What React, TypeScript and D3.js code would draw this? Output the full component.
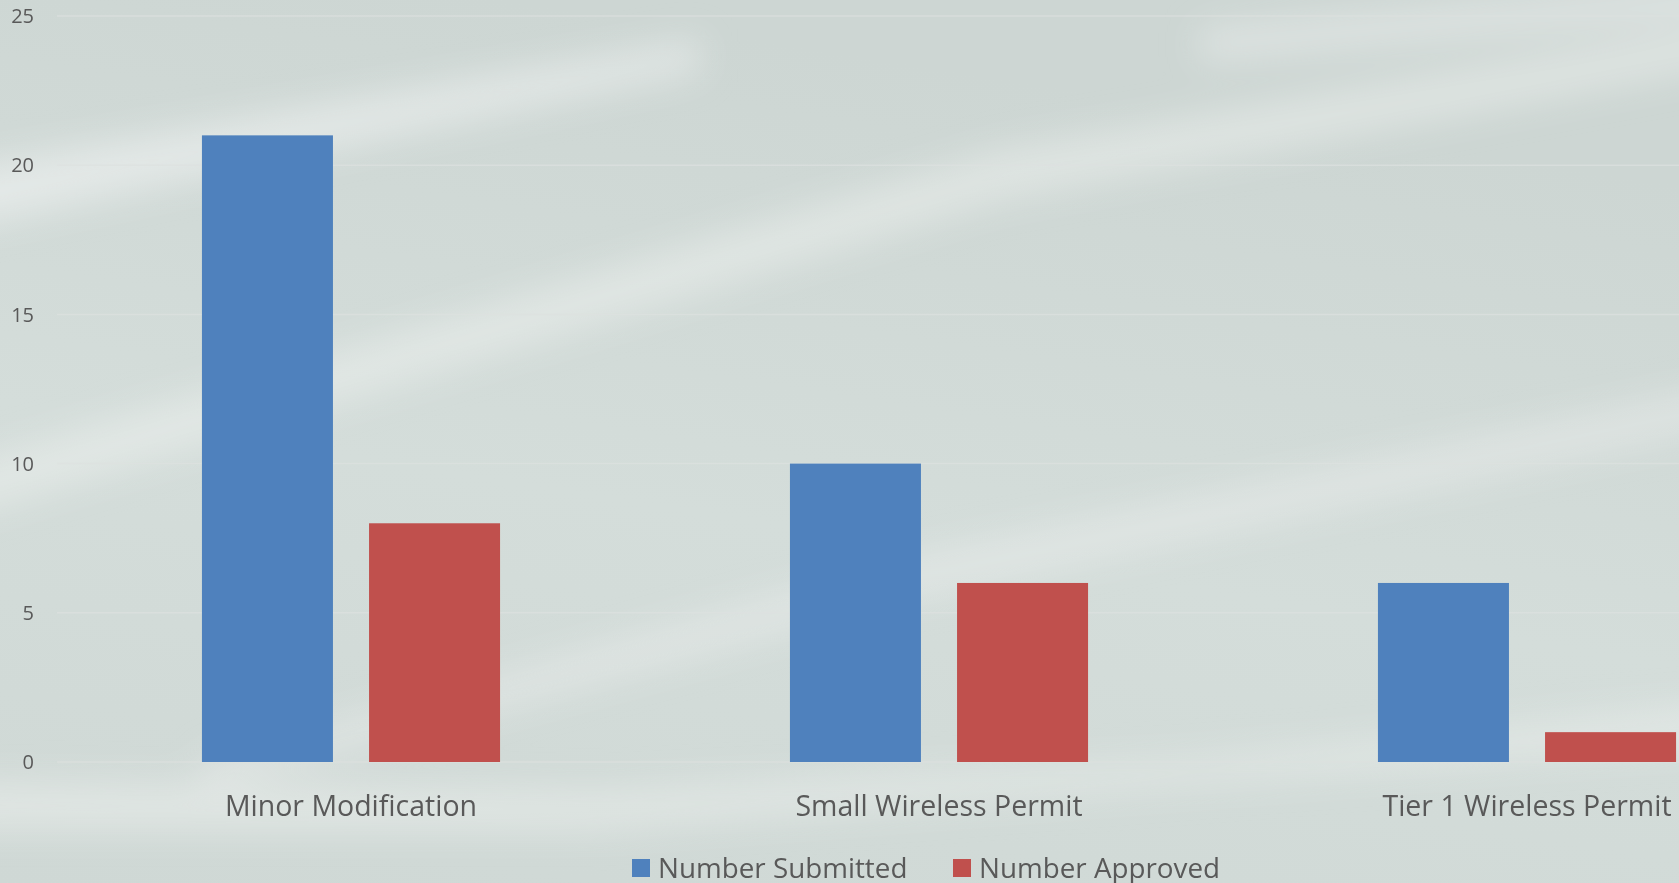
import { useRef, useEffect } from "react";
import * as d3 from "d3";

const categories = ["Minor Modification", "Small Wireless Permit", "Tier 1 Wireless Permit"];
const seriesNames = ["Number Submitted", "Number Approved"];
const submitted = [21, 10, 6];
const approved = [8, 6, 1];
const yTicks = [0, 5, 10, 15, 20, 25];
const colors = ["#4f81bd", "#c0504d"];

const App = () => {
  const svgRef = useRef<SVGSVGElement>(null);

  useEffect(() => {
    const width = 1679;
    const height = 883;
    d3.select("body").style("margin", "0").style("overflow", "hidden");
    const svg = d3.select(svgRef.current).attr("width", width).attr("height", height);
    svg.selectAll("*").remove();

    // background with the diagonal light streaks
    const defs = svg.append("defs");
    const bg = defs
      .append("linearGradient")
      .attr("id", "bg")
      .attr("x1", 0)
      .attr("y1", 1)
      .attr("x2", 0.3)
      .attr("y2", 0);
    bg.append("stop").attr("offset", "0%").attr("stop-color", "#cfd8d5");
    bg.append("stop").attr("offset", "50%").attr("stop-color", "#d4ddda");
    bg.append("stop").attr("offset", "100%").attr("stop-color", "#cdd6d3");
    defs
      .append("filter")
      .attr("id", "blur")
      .attr("x", "-20%")
      .attr("y", "-50%")
      .attr("width", "140%")
      .attr("height", "200%")
      .append("feGaussianBlur")
      .attr("stdDeviation", 18);

    svg.append("rect").attr("width", width).attr("height", height).attr("fill", "url(#bg)");

    const streaks = [
      { pts: [[-50, 170], [700, 40], [700, 70], [-50, 230]], o: 0.55 },
      { pts: [[-50, 470], [1000, 150], [1750, 20], [1750, 60], [1000, 200], [-50, 520]], o: 0.45 },
      { pts: [[200, 760], [900, 560], [1750, 380], [1750, 420], [900, 600], [200, 790]], o: 0.4 },
      { pts: [[-50, 780], [600, 790], [1200, 760], [1750, 700], [1750, 740], [600, 830], [-50, 830]], o: 0.45 },
      { pts: [[1200, 30], [1750, -20], [1750, 10], [1200, 60]], o: 0.5 },
    ];
    svg
      .append("g")
      .attr("filter", "url(#blur)")
      .selectAll("path")
      .data(streaks)
      .join("path")
      .attr("d", (d) => d3.line()(d.pts as [number, number][]) + "Z")
      .attr("fill", "#f4f6f5")
      .attr("opacity", (d) => d.o);

    // scales
    const y = d3.scaleLinear().domain([0, 25]).range([762, 16]);
    const x0 = d3
      .scaleBand()
      .domain(categories)
      .range([57, 1821])
      .paddingInner(0.493)
      .paddingOuter(0.2465);
    const x1 = d3
      .scaleBand()
      .domain(seriesNames)
      .range([0, x0.bandwidth()])
      .paddingInner(0.216);

    // gridlines
    svg
      .append("g")
      .selectAll("line")
      .data(yTicks)
      .join("line")
      .attr("x1", 57)
      .attr("x2", width)
      .attr("y1", (d) => y(d))
      .attr("y2", (d) => y(d))
      .attr("stroke", "#dde1df")
      .attr("stroke-opacity", 0.7)
      .attr("stroke-width", 1.5);

    // y axis labels
    const font = "'Open Sans', sans-serif";
    svg
      .append("g")
      .selectAll("text")
      .data(yTicks)
      .join("text")
      .attr("x", 34)
      .attr("y", (d) => y(d))
      .attr("dy", "0.36em")
      .attr("text-anchor", "end")
      .attr("font-family", font)
      .attr("font-size", 20)
      .attr("fill", "#595959")
      .text((d) => d);

    // bars
    const rows = categories.map((c, i) => ({ cat: c, vals: [submitted[i], approved[i]] }));
    svg
      .append("g")
      .selectAll("g")
      .data(rows)
      .join("g")
      .attr("transform", (d) => `translate(${x0(d.cat)},0)`)
      .selectAll("rect")
      .data((d) => d.vals.map((v, j) => ({ key: seriesNames[j], v, j })))
      .join("rect")
      .attr("x", (d) => x1(d.key)!)
      .attr("width", x1.bandwidth())
      .attr("y", (d) => y(d.v))
      .attr("height", (d) => y(0) - y(d.v))
      .attr("fill", (d) => colors[d.j]);

    // category labels
    svg
      .append("g")
      .selectAll("text")
      .data(categories)
      .join("text")
      .attr("x", (d) => x0(d)! + x0.bandwidth() / 2)
      .attr("y", 816)
      .attr("text-anchor", "middle")
      .attr("font-family", font)
      .attr("font-size", 28.5)
      .attr("fill", "#595959")
      .text((d) => d);

    // legend
    const legendX = [632, 953];
    const legend = svg
      .append("g")
      .selectAll("g")
      .data(seriesNames)
      .join("g")
      .attr("transform", (d, i) => `translate(${legendX[i]},0)`);
    legend
      .append("rect")
      .attr("y", 859)
      .attr("width", 18)
      .attr("height", 18)
      .attr("fill", (d, i) => colors[i]);
    legend
      .append("text")
      .attr("x", 26)
      .attr("y", 878)
      .attr("font-family", font)
      .attr("font-size", 27.8)
      .attr("fill", "#595959")
      .text((d) => d);
  }, []);

  return <svg ref={svgRef} style={{ display: "block" }}></svg>;
};

export default App;
